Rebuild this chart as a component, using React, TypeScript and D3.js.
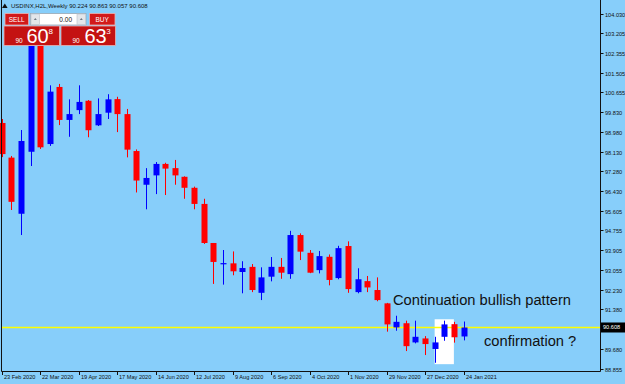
import * as d3 from "d3";

const W = 625;
const H = 384;

// weekly candles, first week starts 23 Feb 2020
const firstWeek = "23 Feb 2020";
const lastWeek = "24 Jan 2021";

const opens = [
  99.35, 97.87, 95.47, 98.12, 102.82, 98.45, 100.89, 99.48, 99.9, 100.3,
  99.25, 99.79, 100.37, 99.73, 98.15, 96.71, 97.11, 97.6, 97.42, 97.05,
  96.58, 95.89, 94.22, 93.33, 93.35, 92.98, 93.2, 92.09, 92.78, 93.2,
  92.89, 94.56, 93.8, 93.06, 93.63, 92.72, 94.09, 92.12, 92.59, 92.21,
  91.64, 90.61, 90.79, 89.97, 90.14, 89.69, 90.21, 90.75, 90.224,
];
const highs = [
  99.52, 97.94, 99.05, 102.99, 102.99, 100.96, 101.02, 100.36, 100.96, 100.33,
  100.4, 100.58, 100.47, 99.95, 98.22, 97.42, 97.68, 97.65, 97.77, 97.07,
  96.63, 96.11, 94.22, 93.92, 93.86, 93.44, 93.32, 93.18, 93.62, 93.58,
  94.74, 94.63, 93.92, 93.88, 93.73, 94.1, 94.29, 93.14, 92.81, 92.75,
  91.66, 91.11, 90.9, 90.9, 90.24, 90.21, 90.9, 90.85, 90.863,
];
const lows = [
  97.89, 95.63, 94.56, 97.51, 98.24, 98.37, 99.26, 98.76, 99.73, 98.74,
  99.22, 99.52, 98.96, 97.88, 96.38, 95.66, 96.31, 96.27, 96.71, 96.11,
  95.66, 94.18, 92.47, 92.44, 92.84, 92.07, 92.12, 91.78, 92.58, 92.69,
  92.69, 93.49, 92.93, 92.92, 92.41, 92.67, 92.09, 92.07, 92.12, 91.73,
  90.43, 90.47, 89.6, 89.93, 89.43, 89.1, 90.04, 89.96, 90.057,
];
const closes = [
  98.02, 95.98, 98.58, 102.82, 98.31, 100.69, 99.48, 99.73, 100.25, 99.04,
  99.73, 100.36, 99.73, 98.21, 96.89, 97.0, 97.6, 97.4, 97.11, 96.58,
  95.89, 94.22, 93.41, 93.36, 93.01, 93.15, 92.21, 92.75, 93.2, 92.95,
  94.56, 93.85, 92.95, 93.66, 92.64, 94.0, 92.25, 92.67, 92.32, 91.78,
  90.74, 90.85, 89.81, 90.21, 89.9, 89.97, 90.74, 90.19, 90.608,
];

const xTickLabels = [
  "23 Feb 2020", "22 Mar 2020", "19 Apr 2020", "17 May 2020", "14 Jun 2020",
  "12 Jul 2020", "9 Aug 2020", "6 Sep 2020", "4 Oct 2020", "1 Nov 2020",
  "29 Nov 2020", "27 Dec 2020", "24 Jan 2021",
];
const yTickLabels = [
  "104.030", "103.205", "102.355", "101.505", "100.655", "99.830", "98.980",
  "98.130", "97.280", "96.430", "95.605", "94.755", "93.905", "93.055",
  "92.230", "91.380", "89.680", "88.855",
];
const lastPrice = 90.608;
const headerText = "USDINX,H2L,Weekly  90.224 90.863 90.057 90.608";

// white highlight box around the last candles
const boxWeeks = ["3 Jan 2021", "17 Jan 2021"];
const boxPrices = [90.96, 89.04];

const notes = ["Continuation bullish pattern", "confirmation ?"];

const parse = d3.timeParse("%d %b %Y");
const font = "'Liberation Sans', Arial, sans-serif";

export default function App() {
  const t0 = parse(firstWeek)!;
  const x = d3
    .scaleTime()
    .domain([t0, parse(lastWeek)!])
    .range([1.7, 463.5]);
  const y = d3.scaleLinear().domain([88.855, 104.03]).range([368.5, 13.5]);

  const candles = opens.map((o, i) => ({
    date: d3.timeWeek.offset(t0, i),
    o,
    h: highs[i],
    l: lows[i],
    c: closes[i],
  }));
  const bodyW = 6;

  const bx0 = x(parse(boxWeeks[0])!);
  const bx1 = x(parse(boxWeeks[1])!);
  const bidY = Math.round(y(lastPrice)) + 0.5;

  return (
    <div style={{ position: "absolute", left: 0, top: 0 }}>
      <svg width={W} height={H} style={{ display: "block" }}>
        <rect width={W} height={H} fill="#87cefa" />

        {/* highlight box */}
        <rect
          x={bx0}
          y={y(boxPrices[0])}
          width={bx1 - bx0}
          height={y(boxPrices[1]) - y(boxPrices[0])}
          fill="#ffffff"
        />

        {/* bid line */}
        <line
          x1={2}
          x2={600}
          y1={bidY}
          y2={bidY}
          stroke="#ffff00"
          strokeWidth={1.3}
        />

        {/* candles */}
        <g>
          {candles.map((d, i) => {
            const cx = Math.round(x(d.date)) + 0.5;
            const up = d.c >= d.o;
            const col = up ? "#0000ff" : "#ff0000";
            const top = y(Math.max(d.o, d.c));
            const bot = y(Math.min(d.o, d.c));
            return (
              <g key={i}>
                <line x1={cx} x2={cx} y1={y(d.h)} y2={y(d.l)} stroke={col} strokeWidth={1} />
                <rect
                  x={cx - bodyW / 2}
                  y={top}
                  width={bodyW}
                  height={Math.max(1.2, bot - top)}
                  fill={col}
                />
              </g>
            );
          })}
        </g>

        {/* frame */}
        <line x1={1.5} x2={1.5} y1={0} y2={371.5} stroke="#111" />
        <line x1={600.5} x2={600.5} y1={0} y2={371.5} stroke="#111" />
        <line x1={1.5} x2={600.5} y1={371.5} y2={371.5} stroke="#111" />

        {/* right axis */}
        {yTickLabels.map((s) => {
          const yy = Math.round(y(+s)) + 0.5;
          return (
            <g key={s}>
              <line x1={600.5} x2={603.5} y1={yy} y2={yy} stroke="#111" />
              <text
                x={605}
                y={yy + 2}
                fontFamily={font}
                fontSize={5.6}
                fill="#111"
              >
                {s}
              </text>
            </g>
          );
        })}
        <rect x={601} y={y(lastPrice) - 5} width={24} height={10} fill="#000" />
        <text
          x={603}
          y={y(lastPrice) + 2}
          fontFamily={font}
          fontSize={5.6}
          fill="#fff"
        >
          {lastPrice.toFixed(3)}
        </text>

        {/* bottom axis */}
        {xTickLabels.map((s) => {
          const xx = Math.round(x(parse(s)!)) + 0.5;
          return (
            <g key={s}>
              <line x1={xx} x2={xx} y1={371.5} y2={375} stroke="#111" />
              <text x={xx + 1.5} y={378.5} fontFamily={font} fontSize={5.6} fill="#111">
                {s}
              </text>
            </g>
          );
        })}

        {/* annotations */}
        <text x={393} y={305} fontFamily={font} fontSize={14.7} fill="#111">
          {notes[0]}
        </text>
        <text x={484} y={346} fontFamily={font} fontSize={14.7} fill="#111">
          {notes[1]}
        </text>

        {/* header */}
        <path d="M2,8 L4.8,3.5 L7.6,8 Z" fill="#111" />
        <text x={11} y={8.3} fontFamily={font} fontSize={6} fill="#111">
          {headerText}
        </text>

        {/* one-click trading panel */}
        <g fontFamily={font}>
          <rect x={4} y={12.5} width={112} height={33.5} fill="#87cefa" />
          <rect x={5} y={13.5} width={23.5} height={11.5} fill="#d21a1a" stroke="#e9b2b2" strokeWidth={0.8} />
          <text x={16.7} y={21.5} textAnchor="middle" fontSize={6.5} fill="#fff">SELL</text>

          <rect x={30.5} y={13.5} width={55.5} height={11.5} fill="#ffffff" stroke="#9aa7b3" strokeWidth={0.8} />
          <rect x={31} y={14} width={8.5} height={10.5} fill="#e3e6ea" stroke="#b9c0c8" strokeWidth={0.6} />
          <rect x={77} y={14} width={8.5} height={10.5} fill="#e3e6ea" stroke="#b9c0c8" strokeWidth={0.6} />
          <path d="M33.8,19.8 L35.3,18.2 L36.8,19.8 Z" fill="#4a5560" />
          <path d="M79.8,19.8 L81.3,18.2 L82.8,19.8 Z" fill="#4a5560" />
          <text x={72} y={21.5} textAnchor="end" fontSize={6.5} fill="#111">0.00</text>

          <rect x={89.5} y={13.5} width={25.5} height={11.5} fill="#d21a1a" stroke="#e9b2b2" strokeWidth={0.8} />
          <text x={102.2} y={21.5} textAnchor="middle" fontSize={6.5} fill="#fff">BUY</text>

          <rect x={4} y={26} width={55.5} height={19.5} fill="#c41212" stroke="#e9b2b2" strokeWidth={0.8} />
          <text x={15.5} y={42.5} fontSize={6.5} fill="#fff">90</text>
          <text x={26.5} y={43.3} fontSize={20} fill="#fff">60</text>
          <text x={48.5} y={34} fontSize={8} fill="#fff">8</text>

          <rect x={61} y={26} width={54.5} height={19.5} fill="#c41212" stroke="#e9b2b2" strokeWidth={0.8} />
          <text x={72.5} y={42.5} fontSize={6.5} fill="#fff">90</text>
          <text x={84.5} y={43.3} fontSize={20} fill="#fff">63</text>
          <text x={106.2} y={34} fontSize={8} fill="#fff">3</text>
        </g>
      </svg>
    </div>
  );
}
